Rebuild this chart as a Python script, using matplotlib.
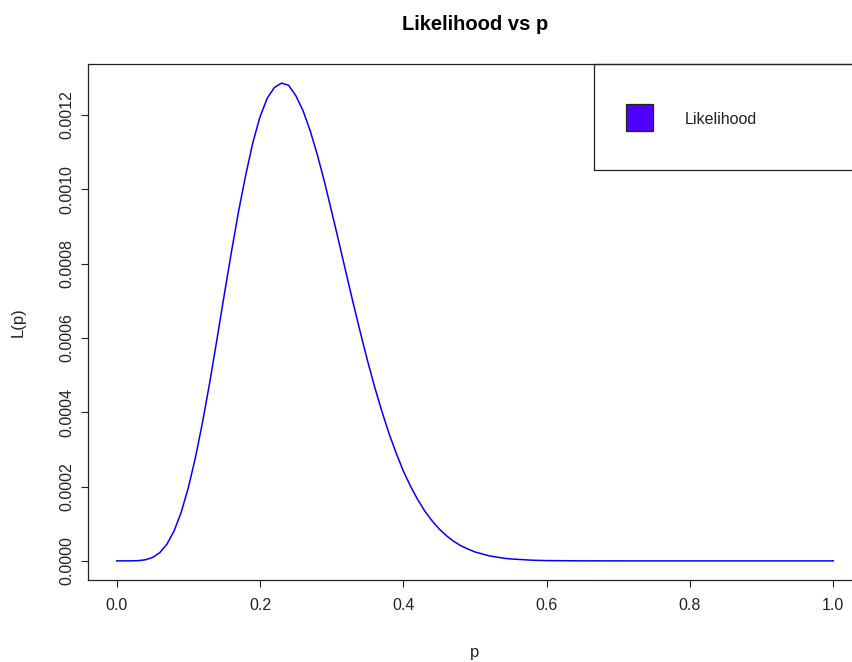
import matplotlib
matplotlib.use("Agg")
import matplotlib.pyplot as plt
from matplotlib.patches import Rectangle

# values
p_vals = [0.00, 0.02, 0.03, 0.04, 0.05, 0.06, 0.07, 0.08, 0.09, 0.10, 0.11,
          0.12, 0.13, 0.14, 0.15, 0.16, 0.17, 0.18, 0.19, 0.20, 0.21, 0.22,
          0.23, 0.24, 0.25, 0.26, 0.27, 0.28, 0.29, 0.30, 0.31, 0.32, 0.33,
          0.34, 0.35, 0.36, 0.37, 0.38, 0.39, 0.40, 0.41, 0.42, 0.43, 0.44,
          0.45, 0.46, 0.47, 0.48, 0.49, 0.50, 0.52, 0.54, 0.55, 0.58, 0.60,
          0.65, 0.70, 0.80, 0.90, 1.00]
lik_vals = [0.0, 0.00000007, 0.00000064, 0.0000029, 0.0000091, 0.0000219,
            0.0000445, 0.0000800, 0.0001305, 0.000197, 0.000279, 0.000375,
            0.000482, 0.000597, 0.000715, 0.000830, 0.000940, 0.001038,
            0.001126, 0.001195, 0.001245, 0.001274, 0.001286, 0.001280,
            0.001252, 0.001212, 0.001158, 0.001093, 0.001020, 0.000940,
            0.000859, 0.000776, 0.000694, 0.000615, 0.000539, 0.000468,
            0.000403, 0.000343, 0.000290, 0.000242, 0.000201, 0.000165,
            0.000134, 0.000108, 0.000086, 0.000068, 0.000053, 0.000041,
            0.000032, 0.000024, 0.0000135, 0.0000072, 0.0000052, 0.0000018,
            0.0000008, 0.0000001, 0.0, 0.0, 0.0, 0.0]
x_ticks = [0.0, 0.2, 0.4, 0.6, 0.8, 1.0]
y_ticks = [0.0, 0.0002, 0.0004, 0.0006, 0.0008, 0.0010, 0.0012]
legend_label = "Likelihood"
legend_color = "#5000FF"

plt.rcParams["font.family"] = ["Liberation Sans", "DejaVu Sans"]

W, H = 852, 662
fig = plt.figure(figsize=(W / 100, H / 100), dpi=100)
# plot box: left 88px, right 862px (runs past the figure edge), top 64px, bottom 580px
ax = fig.add_axes([88 / W, (H - 580) / H, 774 / W, 516 / H])

ax.plot(p_vals, lik_vals, color="blue", lw=1.1)

ymax = max(lik_vals)
ax.set_xlim(-0.04, 1.04)
ax.set_ylim(-0.04 * ymax, 1.04 * ymax)

ax.set_xticks(x_ticks)
ax.set_xticklabels([f"{v:.1f}" for v in x_ticks])
ax.set_yticks(y_ticks)
ax.set_yticklabels([f"{v:.4f}" for v in y_ticks])
ax.tick_params(direction="out", length=5, width=0.8, colors="#222222",
               labelsize=11.5, labelcolor="#222222")
ax.tick_params(axis="x", pad=8)
ax.tick_params(axis="y", pad=5, labelrotation=90)
for lab in ax.get_yticklabels():
    lab.set_va("center")

for s in ax.spines.values():
    s.set_linewidth(0.9)
    s.set_color("#222222")

ax.set_xlabel("p", fontsize=12, color="#222222")
ax.xaxis.set_label_coords(0.5, (580 - 653) / 516)
ax.xaxis.label.set_va("center")
ax.set_ylabel("L(p)", fontsize=12, color="#222222")
ax.yaxis.set_label_coords((18 - 88) / 774, 0.5)
ax.yaxis.label.set_va("center")

ax.set_title("Likelihood vs p", fontsize=14.5, fontweight="bold",
             y=(580 - 24) / 516, va="center", pad=0)

# legend box in the top-right corner, drawn like R's legend(fill=...)
ax.add_patch(Rectangle(((594 - 88) / 774, (580 - 170) / 516),
                       1 - (594 - 88) / 774, 1 - (580 - 170) / 516,
                       transform=ax.transAxes, fill=False, lw=0.9,
                       edgecolor="#222222", clip_on=False))
ax.add_patch(Rectangle(((626 - 88) / 774, (580 - 131) / 516),
                       27 / 774, 27 / 516, transform=ax.transAxes,
                       facecolor=legend_color, edgecolor="#222222", lw=0.9,
                       clip_on=False))
ax.text((685 - 88) / 774, (580 - 119) / 516, legend_label,
        transform=ax.transAxes, fontsize=11.5, color="#222222",
        ha="left", va="center")

fig.savefig("out.png", dpi=100)
plt.close(fig)
